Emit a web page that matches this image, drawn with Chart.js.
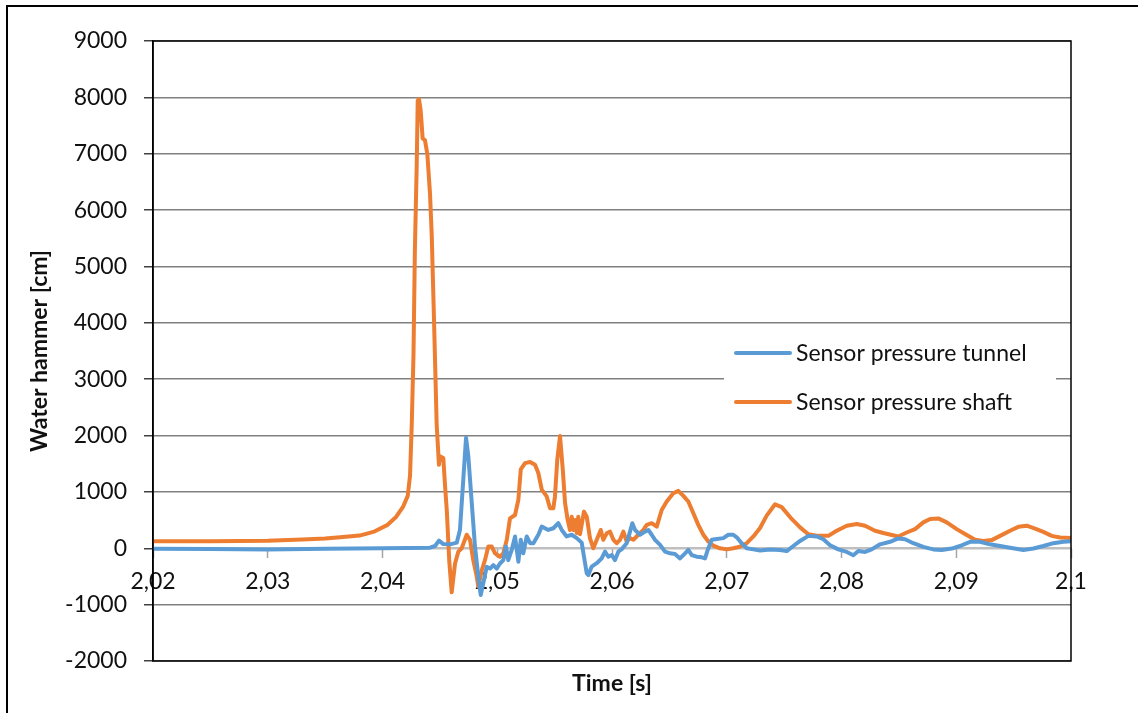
<!DOCTYPE html>
<html>
<head>
<meta charset="utf-8">
<script src="https://cdn.jsdelivr.net/npm/chart.js@4.4.1/dist/chart.umd.min.js"></script>
<style>
  html, body { margin: 0; padding: 0; background: #fff; }
  #wrap { position: relative; width: 1138px; height: 713px; }
</style>
</head>
<body>
<div id="wrap"><canvas id="c" width="1138" height="713"></canvas></div>
<script>
// ---- data ----
const seriesNames = ['Sensor pressure tunnel', 'Sensor pressure shaft'];
const seriesColors = ['#5B9BD5', '#ED7D31'];

const tunnelTime = [2.02, 2.025, 2.03, 2.035, 2.04, 2.04414, 2.04458, 2.04492, 2.0453, 2.04588,
  2.04647, 2.04675, 2.04704, 2.04728, 2.04748, 2.04778, 2.04806, 2.04835, 2.04856, 2.04878,
  2.04908, 2.04937, 2.04966, 2.04995, 2.05024, 2.05053, 2.05076, 2.05096, 2.05126, 2.05155,
  2.05184, 2.05205, 2.05227, 2.05257, 2.05286, 2.05315, 2.05358, 2.05388, 2.05416, 2.05445,
  2.05489, 2.05532, 2.05562, 2.05605, 2.05649, 2.05693, 2.05736, 2.05756, 2.0578, 2.05794,
  2.05823, 2.05867, 2.0591, 2.05939, 2.05968, 2.05998, 2.06026, 2.06055, 2.06085, 2.06128,
  2.06157, 2.06177, 2.06201, 2.06244, 2.06288, 2.06317, 2.06346, 2.06375, 2.06419, 2.06462,
  2.06506, 2.06549, 2.06593, 2.06637, 2.06665, 2.06695, 2.06738, 2.06782, 2.06811, 2.06834,
  2.06869, 2.06913, 2.0697, 2.07014, 2.07057, 2.07087, 2.0713, 2.07174, 2.07232, 2.0729,
  2.07377, 2.07464, 2.07523, 2.0758, 2.07639, 2.07711, 2.07784, 2.07842, 2.079, 2.07972,
  2.08046, 2.08103, 2.08147, 2.08205, 2.08263, 2.08336, 2.08423, 2.08495, 2.08554, 2.08626,
  2.08713, 2.088, 2.08873, 2.08961, 2.09033, 2.0912, 2.09207, 2.09294, 2.09382, 2.09469,
  2.09585, 2.09672, 2.09759, 2.09846, 2.09933, 2.1];
const tunnelValues = [-10, -15, -20, -10, 0, 10, 40, 135, 75, 70,
  100, 325, 1220, 1960, 1630, 800, 30, -500, -830, -620,
  -330, -360, -300, -360, -270, -210, 30, -210, -30, 210,
  -240, 150, -90, 210, 90, 90, 240, 385, 355, 325,
  355, 445, 325, 210, 240, 180, 100, -150, -445, -475,
  -325, -265, -180, -60, -150, -120, -210, -60, -15, 90,
  295, 445, 325, 240, 295, 325, 240, 150, 60, -60,
  -90, -100, -180, -90, -30, -120, -150, -160, -180, -30,
  150, 165, 180, 240, 240, 195, 90, 0, -20, -40,
  -20, -30, -50, 40, 130, 220, 210, 160, 55, -20,
  -65, -125, -50, -65, -20, 70, 115, 175, 160, 90,
  25, -20, -30, -5, 40, 115, 115, 70, 40, 10,
  -30, -5, 40, 90, 115, 125];

const shaftTime = [2.02, 2.025, 2.03, 2.033, 2.035, 2.0363, 2.038, 2.0392, 2.0404, 2.0412,
  2.0418, 2.0422, 2.0424, 2.04255, 2.0427, 2.04282, 2.04298, 2.04307, 2.04318, 2.04333,
  2.0435, 2.0437, 2.04391, 2.04414, 2.04429, 2.04449, 2.04472, 2.04492, 2.04501, 2.0453,
  2.04545, 2.0456, 2.04582, 2.04603, 2.04632, 2.04661, 2.0469, 2.04734, 2.04763, 2.04791,
  2.04821, 2.04835, 2.04865, 2.04893, 2.04922, 2.04952, 2.04981, 2.05024, 2.05053, 2.05083,
  2.05111, 2.05155, 2.05184, 2.05205, 2.05242, 2.05286, 2.05329, 2.05358, 2.05388, 2.05431,
  2.0546, 2.05489, 2.05503, 2.05523, 2.05547, 2.05571, 2.05591, 2.05614, 2.05634, 2.05649,
  2.05663, 2.05678, 2.05693, 2.05706, 2.05721, 2.05756, 2.0578, 2.05808, 2.05837, 2.05867,
  2.05902, 2.05924, 2.05954, 2.05983, 2.06012, 2.06041, 2.0607, 2.06099, 2.06128, 2.06157,
  2.06186, 2.06229, 2.06273, 2.06303, 2.06346, 2.0639, 2.06433, 2.06477, 2.06534, 2.06578,
  2.06622, 2.06665, 2.06709, 2.06752, 2.06796, 2.06839, 2.06883, 2.06941, 2.07, 2.07057,
  2.07116, 2.07174, 2.07232, 2.0729, 2.07348, 2.07421, 2.07479, 2.07566, 2.07639, 2.07711,
  2.07798, 2.07885, 2.07958, 2.08046, 2.08133, 2.08205, 2.08292, 2.08365, 2.08438, 2.08495,
  2.08568, 2.08641, 2.08713, 2.08772, 2.08844, 2.08917, 2.09004, 2.09091, 2.09164, 2.09236,
  2.09309, 2.09382, 2.09469, 2.09541, 2.09614, 2.09687, 2.09759, 2.09832, 2.09905, 2.1];
const shaftValues = [125, 125, 135, 155, 175, 195, 225, 290, 410, 560,
  740, 930, 1290, 2200, 3430, 5260, 6780, 7940, 7970, 7760,
  7270, 7240, 6990, 6290, 5560, 4040, 2200, 1480, 1630, 1600,
  1110, 680, -230, -780, -270, -60, 0, 240, 150, -210,
  -500, -680, -390, -210, 30, 30, -90, -150, -90, 150,
  530, 590, 860, 1400, 1510, 1530, 1480, 1335, 1040, 920,
  710, 710, 920, 1570, 1990, 1400, 800, 500, 325, 560,
  325, 500, 270, 560, 250, 650, 560, 180, 0, 150,
  325, 150, 265, 295, 150, 90, 150, 295, 120, 180,
  150, 240, 325, 415, 445, 385, 680, 830, 975, 1018,
  930, 830, 620, 415, 240, 120, 47, 0, -20, 0,
  30, 90, 210, 360, 580, 780, 730, 520, 370, 250,
  220, 220, 310, 400, 430, 400, 310, 270, 235, 210,
  280, 340, 460, 520, 530, 460, 340, 235, 150, 130,
  145, 220, 310, 380, 400, 350, 290, 220, 190, 180];

const xMin = 2.02, xMax = 2.1, xStep = 0.01;
const yMin = -2000, yMax = 9000, yStep = 1000;
const xTitle = 'Time [s]';
const yTitle = 'Water hammer [cm]';

// ---- helpers ----
function pts(t, v) { return t.map((x, i) => ({ x: x, y: v[i] })); }
function fmtX(v) { return String(Number(v.toFixed(2))).replace('.', ','); }
function fmtY(v) { return String(Math.round(v)); }

const FONT = 'Lato, "Open Sans", sans-serif';
const TEXT = '#111';
const LINE_W = 4;

const framePlugin = {
  id: 'frame',
  beforeDraw(chart) {
    const ctx = chart.ctx;
    ctx.save();
    ctx.fillStyle = '#fff';
    ctx.fillRect(0, 0, chart.width, chart.height);
    ctx.strokeStyle = '#000';
    ctx.lineWidth = 2;
    ctx.strokeRect(7, 6, 1300, 900);
    ctx.restore();
  },
  afterDatasetsDraw(chart) {
    const a = chart.chartArea, ctx = chart.ctx;
    ctx.save();
    ctx.strokeStyle = '#000';
    ctx.lineWidth = 1.5;
    ctx.strokeRect(a.left, a.top, a.right - a.left, a.bottom - a.top);
    ctx.restore();
  }
};

const legendPlugin = {
  id: 'customLegend',
  afterDraw(chart) {
    const ctx = chart.ctx;
    ctx.save();
    ctx.fillStyle = '#fff';
    ctx.fillRect(724, 334, 332, 90);
    ctx.font = '23px ' + FONT;
    ctx.textBaseline = 'middle';
    const rows = [353, 402];
    chart.data.datasets.forEach((ds, i) => {
      ctx.strokeStyle = ds.borderColor;
      ctx.lineWidth = LINE_W;
      ctx.lineCap = 'round';
      ctx.beginPath();
      ctx.moveTo(736, rows[i]);
      ctx.lineTo(790, rows[i]);
      ctx.stroke();
      ctx.fillStyle = TEXT;
      ctx.fillText(ds.label, 796, rows[i] + 1);
    });
    ctx.restore();
  }
};

new Chart(document.getElementById('c'), {
  type: 'line',
  data: {
    datasets: [
      { label: seriesNames[0], data: pts(tunnelTime, tunnelValues), borderColor: seriesColors[0],
        backgroundColor: seriesColors[0], borderWidth: LINE_W, pointRadius: 0, tension: 0,
        borderJoinStyle: 'round', borderCapStyle: 'round' },
      { label: seriesNames[1], data: pts(shaftTime, shaftValues), borderColor: seriesColors[1],
        backgroundColor: seriesColors[1], borderWidth: LINE_W, pointRadius: 0, tension: 0,
        borderJoinStyle: 'round', borderCapStyle: 'round' }
    ]
  },
  options: {
    responsive: false,
    animation: false,
    devicePixelRatio: 1,
    layout: { padding: { left: 0, top: 41, right: 67, bottom: 0 } },
    plugins: { legend: { display: false }, tooltip: { enabled: false }, title: { display: false } },
    scales: {
      x: {
        type: 'linear',
        position: { y: 0 },
        min: xMin, max: xMax,
        ticks: { stepSize: xStep, callback: (v) => fmtX(v), color: TEXT, font: { family: FONT, size: 23 },
                 padding: 11, maxRotation: 0, autoSkip: false },
        grid: { drawOnChartArea: false, drawTicks: true, tickLength: 9, color: '#a6a6a6', tickWidth: 1.5 },
        border: { display: true, color: '#bfbfbf', width: 2 },
        title: { display: false }
      },
      x2: {
        type: 'linear',
        position: 'bottom',
        min: xMin, max: xMax,
        ticks: { display: false },
        grid: { display: false, drawTicks: false },
        border: { display: false },
        title: { display: true, text: xTitle, color: TEXT, font: { family: FONT, size: 23, weight: 'bold' },
                 padding: { top: 0, bottom: 16 } },
        afterFit: (s) => { s.height = 52; }
      },
      y: {
        type: 'linear',
        position: 'left',
        min: yMin, max: yMax,
        ticks: { stepSize: yStep, callback: (v) => fmtY(v), color: TEXT, font: { family: FONT, size: 23 }, padding: 17 },
        grid: {
          color: (c) => (c.tick && c.tick.value === 0) ? '#bfbfbf' : '#808080',
          lineWidth: 1.5, tickLength: 9, drawTicks: true, tickColor: '#404040'
        },
        border: { display: true, color: '#000', width: 1.5 },
        title: { display: true, text: yTitle, color: TEXT, font: { family: FONT, size: 23, weight: 'bold' },
                 padding: { top: 26, bottom: 0 } },
        afterFit: (s) => { s.width = 153; }
      }
    }
  },
  plugins: [framePlugin, legendPlugin]
});
</script>
</body>
</html>
